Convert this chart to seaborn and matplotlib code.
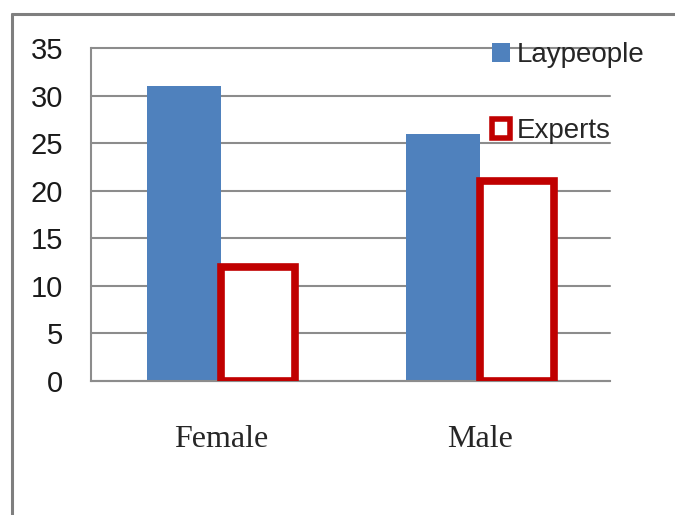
import matplotlib
matplotlib.use("Agg")
import matplotlib.pyplot as plt
from matplotlib import font_manager
from matplotlib.patches import Patch
from matplotlib.lines import Line2D
import seaborn as sns
import pandas as pd

# Survey counts by gender and respondent group
genders = ["Female", "Male"]
laypeople = [31, 26]
experts = [12, 21]
groups = ["Laypeople", "Experts"]
y_ticks = [0, 5, 10, 15, 20, 25, 30, 35]

BLUE = "#4F81BD"
RED = "#C00000"
GRID = "#8C8C8C"

available = {f.name for f in font_manager.fontManager.ttflist}
sans = "Liberation Sans Narrow" if "Liberation Sans Narrow" in available else "Liberation Sans"
serif = "Liberation Serif"

sns.set_theme(style="white")
plt.rcParams["font.family"] = [sans, "DejaVu Sans"]

df = pd.DataFrame({
    "gender": genders * 2,
    "group": [groups[0]] * len(genders) + [groups[1]] * len(genders),
    "count": laypeople + experts,
})

fig = plt.figure(figsize=(6.75, 5.15), dpi=100)
ax = fig.add_axes([91 / 675, 134 / 515, (610 - 91) / 675, (381 - 48) / 515])

sns.barplot(data=df, x="gender", y="count", hue="group", order=genders,
            hue_order=groups, palette=[BLUE, RED], width=0.57, gap=0,
            saturation=1, errorbar=None, legend=False, ax=ax)

# Experts drawn as hollow red boxes
for bar in ax.containers[1]:
    bar.set_facecolor("white")
    bar.set_edgecolor(RED)
    bar.set_linewidth(5.5)
    bar.set_zorder(3)
for bar in ax.containers[0]:
    bar.set_edgecolor("none")
    bar.set_zorder(2)

ax.set_xlim(-0.5, 1.5)
ax.set_ylim(0, 35)
ax.set_yticks(y_ticks)
ax.set_yticklabels([str(v) for v in y_ticks], fontsize=21)
ax.yaxis.grid(True, color=GRID, linewidth=1.5)
ax.set_axisbelow(True)
for gl in ax.get_ygridlines():
    gl.set_clip_on(False)

# category boundaries carry the tick marks, centres carry the labels
ax.set_xticks([-0.5, 0.5, 1.5])
ax.set_xticklabels(["", "", ""])
ax.set_xticks([0, 1], minor=True)
ax.set_xticklabels(genders, minor=True, fontsize=23, family=serif)
ax.tick_params(axis="x", which="major", length=8, width=1.3, color=GRID, direction="out")
ax.tick_params(axis="x", which="minor", length=0, pad=32)
ax.tick_params(axis="y", length=10, width=1.3, color=GRID, pad=10, direction="out")
ax.tick_params(axis="both", labelcolor="#1a1a1a")
ax.set_xlabel("")
ax.set_ylabel("")

for side in ["top", "right"]:
    ax.spines[side].set_visible(False)
for side in ["left", "bottom"]:
    ax.spines[side].set_color(GRID)
    ax.spines[side].set_linewidth(1.5)

handles = [
    Patch(facecolor=BLUE, edgecolor="none"),
    Patch(facecolor="white", edgecolor=RED, linewidth=4),
]
fig.legend(handles, groups, loc="upper left", bbox_to_anchor=(492 / 675, 1 - 42 / 515),
           frameon=False, fontsize=20, handlelength=0.65, handleheight=0.65,
           handletextpad=0.25, labelspacing=1.8, borderpad=0, borderaxespad=0)

# outer frame of the chart area
fig.add_artist(Line2D([12 / 675, 12 / 675], [0, 1 - 14 / 515], transform=fig.transFigure,
                      color="#7F7F7F", linewidth=2.2))
fig.add_artist(Line2D([12 / 675, 1], [1 - 14 / 515, 1 - 14 / 515], transform=fig.transFigure,
                      color="#7F7F7F", linewidth=2.2))

fig.savefig("out.png", dpi=100)
